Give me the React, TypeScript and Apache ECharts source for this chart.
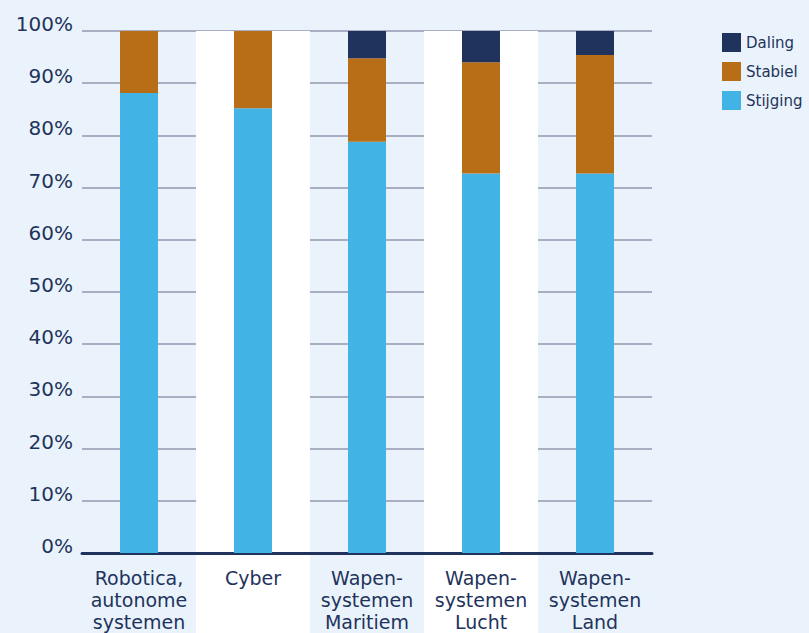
import React, { useEffect, useRef } from "react";
import * as echarts from "echarts";

const categories = [
  "Robotica,\nautonome\nsystemen",
  "Cyber",
  "Wapen-\nsystemen\nMaritiem",
  "Wapen-\nsystemen\nLucht",
  "Wapen-\nsystemen\nLand",
];
const stijging = [88.1, 85.2, 78.8, 72.7, 72.7];
const stabiel = [11.9, 14.8, 16.0, 21.3, 22.7];
const daling = [0, 0, 5.2, 6.0, 4.6];

const NAVY = "#1f335c";
const ORANGE = "#b86e16";
const BLUE = "#41b4e5";
const BG = "#eaf3fb";
const FONT = "DejaVu Sans";

export default function App() {
  const ref = useRef<HTMLDivElement>(null);
  useEffect(() => {
    if (!ref.current) return;
    const chart = echarts.init(ref.current, null, { renderer: "svg" });
    chart.setOption({
      animation: false,
      backgroundColor: BG,
      textStyle: { fontFamily: FONT, color: NAVY },
      legend: {
        orient: "vertical",
        left: 722,
        top: 33,
        padding: 0,
        icon: "rect",
        itemWidth: 19,
        itemHeight: 19,
        itemGap: 10,
        data: ["Daling", "Stabiel", "Stijging"],
        textStyle: { fontFamily: FONT, fontSize: 15, color: NAVY },
      },
      grid: [
        { left: 82, right: 157, top: 31, bottom: 0 },
        { left: 82, right: 157, top: 31, bottom: 76 },
      ],
      xAxis: [
        {
          type: "category",
          gridIndex: 0,
          data: categories,
          axisLine: { show: false },
          axisTick: { show: false },
          axisLabel: { show: false },
          splitArea: {
            show: true,
            areaStyle: { color: ["rgba(255,255,255,0)", "#ffffff"] },
          },
        },
        {
          type: "category",
          gridIndex: 1,
          data: categories,
          axisLine: { show: true, lineStyle: { color: NAVY, width: 3 } },
          axisTick: { show: false },
          axisLabel: {
            margin: 14,
            fontFamily: FONT,
            fontSize: 19,
            lineHeight: 22,
            color: NAVY,
            interval: 0,
            align: "center",
          },
        },
      ],
      yAxis: [
        { type: "value", gridIndex: 0, show: false, min: 0, max: 100 },
        {
          type: "value",
          gridIndex: 1,
          min: 0,
          max: 100,
          interval: 10,
          axisLine: { show: false },
          axisTick: { show: false },
          axisLabel: {
            formatter: "{value}%",
            fontFamily: FONT,
            fontSize: 20,
            lineHeight: 14,
            color: NAVY,
            margin: 9,
            verticalAlign: "bottom",
          },
          splitLine: { lineStyle: { color: "#9497b0", width: 1.5 } },
        },
      ],
      series: [
        {
          name: "Stijging",
          type: "bar",
          stack: "total",
          xAxisIndex: 1,
          yAxisIndex: 1,
          barWidth: 38,
          itemStyle: { color: BLUE },
          data: stijging,
        },
        {
          name: "Stabiel",
          type: "bar",
          stack: "total",
          xAxisIndex: 1,
          yAxisIndex: 1,
          barWidth: 38,
          itemStyle: { color: ORANGE },
          data: stabiel,
        },
        {
          name: "Daling",
          type: "bar",
          stack: "total",
          xAxisIndex: 1,
          yAxisIndex: 1,
          barWidth: 38,
          itemStyle: { color: NAVY },
          data: daling,
        },
      ],
    });
    return () => chart.dispose();
  }, []);
  return (
    <div
      ref={ref}
      style={{ position: "fixed", left: 0, top: 0, width: 809, height: 633 }}
    />
  );
}
